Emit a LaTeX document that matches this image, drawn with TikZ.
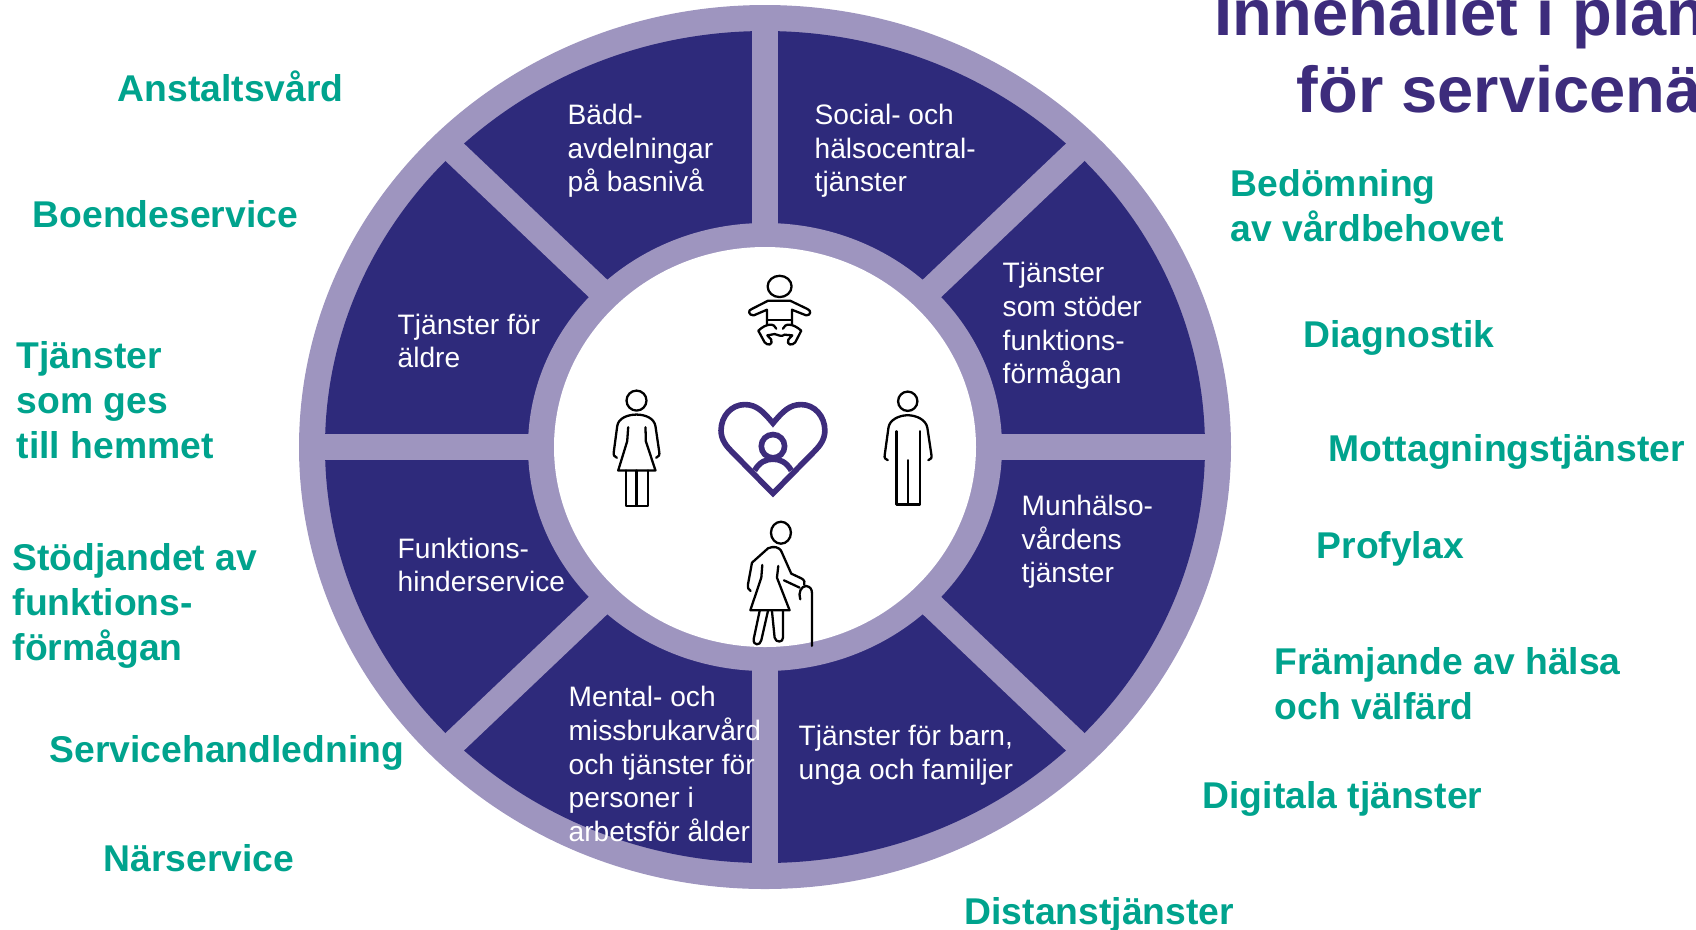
\documentclass[tikz,border=0pt]{standalone}
\usepackage{fontspec}
\setmainfont{Liberation Sans}
\definecolor{wheeldark}{HTML}{2E2A7B}
\definecolor{wheellight}{HTML}{9E95BF}
\definecolor{titlecol}{HTML}{3D2C7C}
\definecolor{servicegreen}{HTML}{00A38D}
\tikzset{
  sector/.style={anchor=west,align=left,inner sep=0pt,text=white,
    font=\fontsize{8}{9.55}\selectfont},
  service/.style={anchor=west,align=left,inner sep=0pt,text=servicegreen,
    font=\bfseries\fontsize{10.6}{12.8}\selectfont},
  headline/.style={anchor=base west,inner sep=0pt,text=titlecol,
    font=\bfseries\fontsize{18.5}{22}\selectfont},
  figure/.style={draw=black,line width=0.65pt,line join=round,line cap=round},
  heartline/.style={draw=titlecol,line width=1.6pt,line join=miter}
}
\begin{document}
\begin{tikzpicture}[x=0.01cm,y=-0.01cm]
      \useasboundingbox (0,0) rectangle (1696,929);
      % wheel
      \coordinate (c) at (765,447);
      \fill[wheellight] (c) ellipse[x radius=466, y radius=442];
      \fill[wheeldark] (c) ellipse[x radius=440, y radius=416];
      % spokes
      \coordinate (nw) at (445,143);
      \coordinate (se) at (1085,751);
      \coordinate (ne) at (1085,143);
      \coordinate (sw) at (445,751);
      \draw[wheellight,line width=7.2pt] (765,15) -- (765,879);
      \draw[wheellight,line width=7.2pt] (310,447) -- (1220,447);
      \draw[wheellight,line width=7.2pt] (nw) -- (se);
      \draw[wheellight,line width=7.2pt] (ne) -- (sw);
      \fill[wheellight] (c) ellipse[x radius=237, y radius=224];
      \fill[white] (c) ellipse[x radius=211, y radius=200];
      % persons, in a finer grid
      \begin{scope}[shift={(540,241.5)},x=0.00333cm,y=-0.00333cm]
        % baby
        \draw[figure] (720,135) ellipse[x radius=36, y radius=32];
        \draw[figure] (682,250) -- (682,205) -- (642,222)
          .. controls (625,222) and (625,205) .. (636,203) -- (685,178)
          -- (752,178) -- (804,203) .. controls (815,207) and (815,222) .. (800,222)
          -- (757,205) -- (757,250);
        \draw[figure] (682,236) -- (757,236);
        \draw[figure] (710,262) .. controls (705,245) and (680,245) .. (656,268)
          -- (675,303) .. controls (685,315) and (700,310) .. (695,295)
          -- (683,282) -- (705,278) .. controls (715,280) and (725,288) .. (735,280);
        \draw[figure] (730,262) .. controls (735,245) and (760,245) .. (785,268)
          -- (767,303) .. controls (757,315) and (740,310) .. (746,295)
          -- (758,282) -- (735,280);
        % woman
        \draw[figure] (290,478) circle[radius=30];
        \draw[figure] (231,650) .. controls (222,648) and (220,640) .. (222,630)
          -- (232,555) .. controls (235,530) and (265,520) .. (290,520)
          .. controls (315,520) and (343,530) .. (347,555)
          -- (358,630) .. controls (360,640) and (358,648) .. (349,650);
        \draw[figure] (265,558) -- (262,600) -- (235,688) -- (347,688) -- (318,600) -- (317,558);
        \draw[figure] (258,688) -- (258,794) -- (324,794) -- (324,688);
        \draw[figure] (290,688) -- (290,794);
        % man
        \draw[figure] (1105,480) circle[radius=29];
        \draw[figure] (1045,657) .. controls (1037,655) and (1034,650) .. (1036,640)
          -- (1047,560) .. controls (1050,535) and (1080,522) .. (1105,522)
          .. controls (1130,522) and (1160,535) .. (1164,560)
          -- (1176,640) .. controls (1178,650) and (1175,655) .. (1167,657);
        \draw[figure] (1071,570) -- (1071,790) -- (1141,790) -- (1141,570);
        \draw[figure] (1105,657) -- (1105,790);
        % old woman
        \draw[figure] (724,875) ellipse[x radius=30, y radius=33];
        \draw[figure] (633,1050) .. controls (626,1048) and (624,1040) .. (625,1030)
          -- (637,965) -- (685,922) .. controls (700,915) and (720,915) .. (727,935)
          -- (755,998) -- (785,1012) .. controls (795,1017) and (797,1025) .. (794,1032);
        \draw[figure] (733,1018) -- (780,1040);
        \draw[figure] (668,972) -- (665,1010) -- (632,1108) -- (750,1108) -- (712,1010) -- (716,975);
        \draw[figure] (660,1110) -- (642,1195) .. controls (640,1215) and (662,1215) .. (665,1198) -- (685,1110);
        \draw[figure] (697,1110) -- (705,1190) .. controls (708,1207) and (732,1205) .. (730,1190) -- (730,1110);
        \draw[figure] (782,1075) .. controls (775,1055) and (785,1035) .. (800,1035)
          .. controls (812,1037) and (817,1045) .. (817,1055) -- (817,1215);
        % heart
        \draw[heartline] (700,546) .. controls (730,510) and (750,490) .. (785,490)
          .. controls (825,490) and (856,525) .. (856,568)
          .. controls (856,595) and (840,615) .. (825,630) -- (700,757) -- (575,630)
          .. controls (560,615) and (544,595) .. (544,568)
          .. controls (544,525) and (575,490) .. (615,490)
          .. controls (650,490) and (670,510) .. (700,546) -- cycle;
        \draw[heartline] (700,615) circle[radius=35];
        \draw[heartline] (645,688) .. controls (660,662) and (680,654) .. (700,654)
          .. controls (720,654) and (740,662) .. (755,688);
      \end{scope}
      % sectors
      \node[sector] (baedd) at (567,151) {Bädd-\\avdelningar\\på basnivå};
      \node[sector] (social) at (814,151) {Social- och\\hälsocentral-\\tjänster};
      \node[sector] (stoeder) at (1002,326) {Tjänster\\som stöder\\funktions-\\förmågan};
      \node[sector] (mun) at (1021,542) {Munhälso-\\vårdens\\tjänster};
      \node[sector] (barn) at (798,755) {Tjänster för barn,\\unga och familjer};
      \node[sector] (mental) at (568,764) {Mental- och\\missbrukarvård\\och tjänster för\\personer i\\arbetsför ålder};
      \node[sector] (hinder) at (397,565) {Funktions-\\hinderservice};
      \node[sector] (aeldre) at (397,341) {Tjänster för\\äldre};
      % services, left side
      \node[service] (anstalt) at (117,86) {Anstaltsvård};
      \node[service] (boende) at (32,214) {Boendeservice};
      \node[service] (hemmet) at (16,400) {Tjänster\\som ges\\till hemmet};
      \node[service] (stoedjande) at (12,606) {Stödjandet av\\funktions-\\förmågan};
      \node[service] (handledning) at (49,753) {Servicehandledning};
      \node[service] (naer) at (103,858) {Närservice};
      % services, right side
      \node[service] (bedoemning) at (1230,206) {Bedömning\\av vårdbehovet};
      \node[service] (diagnostik) at (1303,338) {Diagnostik};
      \node[service] (mottagning) at (1328,452) {Mottagningstjänster};
      \node[service] (profylax) at (1316,549) {Profylax};
      \node[service] (fraemjande) at (1274,684) {Främjande av hälsa\\och välfärd};
      \node[service] (digitala) at (1202,799) {Digitala tjänster};
      \node[service] (distans) at (964,915) {Distanstjänster};
      % title
      \node[headline] (rad1) at (1214,35) {Innehållet i plan};
      \node[headline] (rad2) at (1296,112) {för servicenä};
\end{tikzpicture}
\end{document}
